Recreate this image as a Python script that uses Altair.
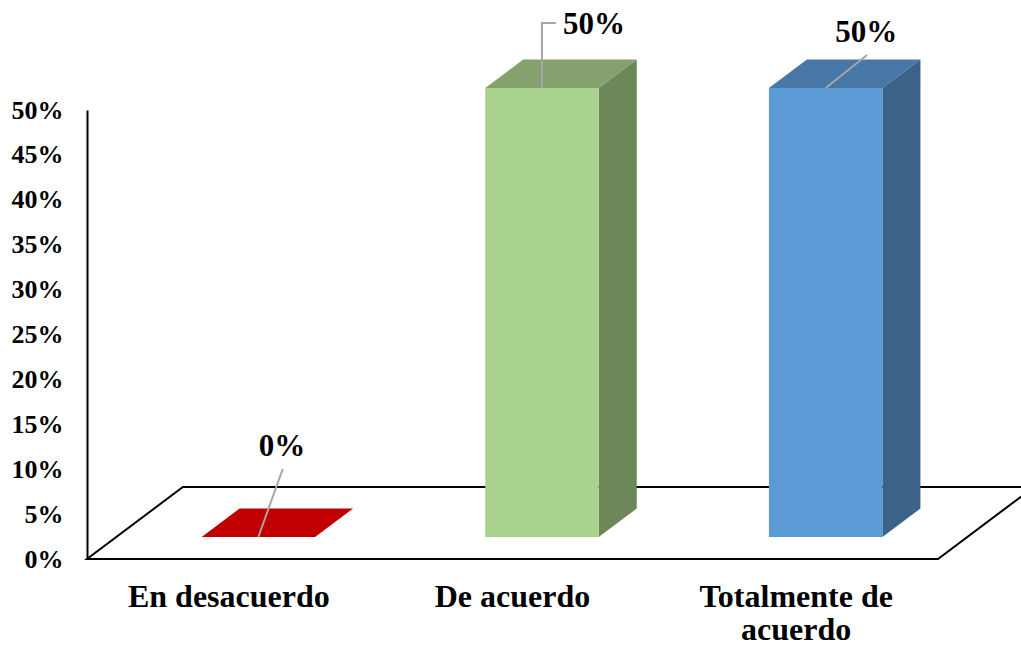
import altair as alt
import pandas as pd

# ---------------- data ----------------
categories = ["En desacuerdo", "De acuerdo", "Totalmente de acuerdo"]
values = [0, 50, 50]                      # percent
value_labels = ["0%", "50%", "50%"]
y_ticks = [0, 5, 10, 15, 20, 25, 30, 35, 40, 45, 50]

# ---------------- style ----------------
front_colors = ["#C00000", "#A9D18E", "#5B9BD5"]
top_colors = ["#C00000", "#84A16E", "#4677A7"]
side_colors = ["#A00000", "#6C8859", "#3A6387"]
FONT = "Liberation Serif"

# 3D geometry in data units (x: category bands, y: percent)
BAR_W = 0.4
FRONT_DX, FRONT_DY = 0.104, 2.45      # bar front face offset into depth
DEPTH_DX, DEPTH_DY = 0.134, 3.17      # bar depth
FLOOR_DX, FLOOR_DY = 0.338, 8.02      # floor depth
N = len(categories)

# label placement (offset from top-front centre of each bar)
label_offsets = [(0.083, 10.0), (0.183, 7.0), (0.143, 6.1)]
leader_paths = [
    [(0, 0), (0.086, 7.57)],
    [(0, 0), (0, 7.24), (0.049, 7.24)],
    [(0, 0), (0.146, 3.67)],
]


def wrap(s, width=13):
    lines, cur = [], ""
    for w in s.split():
        if cur and len(cur) + 1 + len(w) > width:
            lines.append(cur)
            cur = w
        else:
            cur = (cur + " " + w).strip()
    lines.append(cur)
    return "\n".join(lines)


# ---------------- tables ----------------
floor = pd.DataFrame({
    "y": [0, FLOOR_DY],
    "x": [0, FLOOR_DX],
    "x2": [N, N + FLOOR_DX],
})

fronts, sides, tops, labels, leaders, cats = [], [], [], [], [], []
for i, (c, v) in enumerate(zip(categories, values)):
    xc = i + 0.5
    xl = xc - BAR_W / 2 + FRONT_DX
    xr = xc + BAR_W / 2 + FRONT_DX
    yb = FRONT_DY
    yt = FRONT_DY + v
    cats.append({"x": xc, "label": wrap(c)})
    if v > 0:
        fronts.append({"x": xl, "x2": xr, "y": yb, "y2": yt, "fill": front_colors[i]})
        sides.append({"id": c, "x": xr, "y": yb, "y2": yt, "fill": side_colors[i]})
        sides.append({"id": c, "x": xr + DEPTH_DX, "y": yb + DEPTH_DY,
                      "y2": yt + DEPTH_DY, "fill": side_colors[i]})
    tops.append({"id": c, "y": yt, "x": xl, "x2": xr, "fill": top_colors[i]})
    tops.append({"id": c, "y": yt + DEPTH_DY, "x": xl + DEPTH_DX,
                 "x2": xr + DEPTH_DX, "fill": top_colors[i]})
    ax = xc + FRONT_DX
    ay = yt
    labels.append({"x": ax + label_offsets[i][0], "y": ay + label_offsets[i][1],
                   "text": value_labels[i]})
    for k, (dx, dy) in enumerate(leader_paths[i]):
        leaders.append({"id": c, "k": k, "x": ax + dx, "y": ay + dy})

fronts = pd.DataFrame(fronts)
sides = pd.DataFrame(sides)
tops = pd.DataFrame(tops)
labels = pd.DataFrame(labels)
leaders = pd.DataFrame(leaders)
cats = pd.DataFrame(cats)

xs = alt.Scale(domain=[0, N], nice=False, zero=False)
ys = alt.Scale(domain=[0, 50], nice=False, zero=False)

yaxis = alt.Axis(
    values=y_ticks, labelExpr="datum.value + '%'", title=None, grid=False,
    ticks=False, domain=True, domainColor="black", domainWidth=2,
    labelFont=FONT, labelFontSize=26, labelFontWeight="bold", labelColor="black",
    labelPadding=24,
)

floor_layer = alt.Chart(floor).mark_area(
    orient="horizontal", fill="white", stroke="black", strokeWidth=2
).encode(
    y=alt.Y("y:Q", scale=ys, axis=yaxis),
    x=alt.X("x:Q", scale=xs, axis=None),
    x2="x2:Q",
)

side_layer = alt.Chart(sides).mark_area(orient="vertical").encode(
    x=alt.X("x:Q", scale=xs), y=alt.Y("y:Q", scale=ys), y2="y2:Q",
    detail="id:N", color=alt.Color("fill:N", scale=None),
)

top_layer = alt.Chart(tops).mark_area(orient="horizontal").encode(
    y=alt.Y("y:Q", scale=ys), x=alt.X("x:Q", scale=xs), x2="x2:Q",
    detail="id:N", color=alt.Color("fill:N", scale=None),
)

front_layer = alt.Chart(fronts).mark_rect().encode(
    x=alt.X("x:Q", scale=xs), x2="x2:Q",
    y=alt.Y("y:Q", scale=ys), y2="y2:Q",
    color=alt.Color("fill:N", scale=None),
)

leader_layer = alt.Chart(leaders).mark_line(color="#A6A6A6", strokeWidth=2).encode(
    x=alt.X("x:Q", scale=xs), y=alt.Y("y:Q", scale=ys),
    detail="id:N", order="k:Q",
)

label_layer = alt.Chart(labels).mark_text(
    font=FONT, fontSize=31, fontWeight="bold", color="black",
    align="center", baseline="middle",
).encode(
    x=alt.X("x:Q", scale=xs), y=alt.Y("y:Q", scale=ys), text="text:N",
)

cat_layer = alt.Chart(cats).mark_text(
    font=FONT, fontSize=32, fontWeight="bold", color="black",
    align="center", baseline="alphabetic", dy=48, lineHeight=33, lineBreak="\n",
).encode(
    x=alt.X("x:Q", scale=xs), y=alt.datum(0, scale=ys), text="label:N",
)

chart = alt.layer(
    floor_layer, side_layer, top_layer, front_layer, leader_layer,
    label_layer, cat_layer,
).properties(
    width=851, height=449,
    autosize=alt.AutoSizeParams(type="none"),
    padding={"left": 87, "top": 110, "right": 83, "bottom": 89},
    background="white",
).configure_view(stroke=None)

chart.save("out.html", embed_options={"renderer": "svg", "actions": False})
